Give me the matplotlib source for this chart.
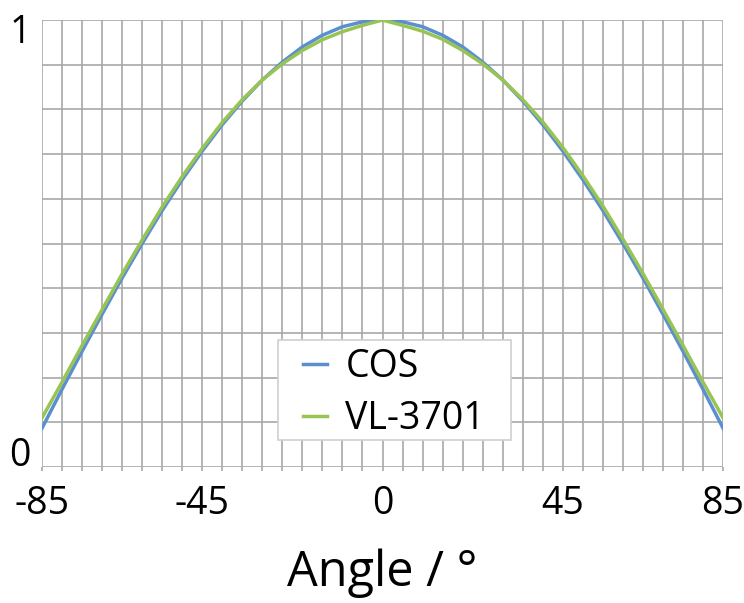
import numpy as np
import matplotlib.pyplot as plt
from matplotlib.patches import Rectangle
from matplotlib.transforms import ScaledTranslation

# angle in degrees, 5 deg steps
angles = [-85, -80, -75, -70, -65, -60, -55, -50, -45, -40, -35, -30, -25, -20, -15, -10, -5,
          0, 5, 10, 15, 20, 25, 30, 35, 40, 45, 50, 55, 60, 65, 70, 75, 80, 85]

cos_vals = [0.087, 0.174, 0.259, 0.342, 0.423, 0.500, 0.574, 0.643, 0.707, 0.766, 0.819, 0.866,
            0.906, 0.940, 0.966, 0.985, 0.996,
            1.000, 0.996, 0.985, 0.966, 0.940, 0.906, 0.866, 0.819, 0.766, 0.707, 0.643, 0.574,
            0.500, 0.423, 0.342, 0.259, 0.174, 0.087]

vl_vals = [0.110, 0.190, 0.272, 0.352, 0.432, 0.508, 0.582, 0.650, 0.713, 0.771, 0.822, 0.866,
           0.902, 0.932, 0.956, 0.974, 0.988,
           1.000, 0.988, 0.975, 0.957, 0.932, 0.902, 0.866, 0.822, 0.772, 0.715, 0.652, 0.584,
           0.510, 0.433, 0.353, 0.272, 0.190, 0.110]

xtick_pos = list(range(-85, 90, 5))
xtick_labels = ['-85', '-45', '0', '45', '85']

plt.rcParams['font.family'] = ['Open Sans', 'DejaVu Sans']

fig = plt.figure(figsize=(7.44, 6.03), dpi=100)
ax = fig.add_axes([0.0565, 0.2255, 0.9153, 0.7413])

ax.plot(angles, cos_vals, color='#5b8fd0', lw=2.5, label='COS', zorder=3)
ax.plot(angles, vl_vals, color='#98c454', lw=2.5, label='VL-3701', zorder=4)

ax.set_xlim(-85, 85)
ax.set_ylim(0, 1)

ax.set_xticks(xtick_pos)
ax.set_xticklabels([str(a) if str(a) in xtick_labels else '' for a in xtick_pos])
ax.set_yticks(np.arange(0, 1.01, 0.1))
ax.set_yticklabels(['0'] + [''] * 9 + ['1'])

ax.tick_params(axis='x', length=3, width=1.2, color='#a8a8a8', pad=10, labelsize=27)
ax.tick_params(axis='y', length=0, pad=8, labelsize=27)

# nudge the y labels like the original
ylabs = ax.get_yticklabels()
ylabs[0].set_verticalalignment('bottom')
ylabs[0].set_transform(ylabs[0].get_transform() + ScaledTranslation(0, -6 / 72, fig.dpi_scale_trans))
ylabs[-1].set_transform(ylabs[-1].get_transform() + ScaledTranslation(0, -6 / 72, fig.dpi_scale_trans))

ax.grid(True, color='#a8a8a8', lw=1.2)
ax.set_axisbelow(True)
for s in ax.spines.values():
    s.set_visible(False)

ax.set_xlabel('Angle / °', fontsize=35, labelpad=18)

# legend box drawn by hand so the padding can be uneven like the original
box = Rectangle((0.3466, 0.0604), 0.3421, 0.2237, transform=ax.transAxes,
                facecolor='white', edgecolor='#d0d0d0', lw=1.2, zorder=5)
ax.add_patch(box)
leg = ax.legend(loc='upper left', bbox_to_anchor=(0.3833, 0.266), borderaxespad=0,
                fontsize=27, frameon=False, handlelength=0.65, handletextpad=0.48,
                borderpad=0, labelspacing=0.38)
leg.set_zorder(6)

fig.savefig('out.png', dpi=100)
